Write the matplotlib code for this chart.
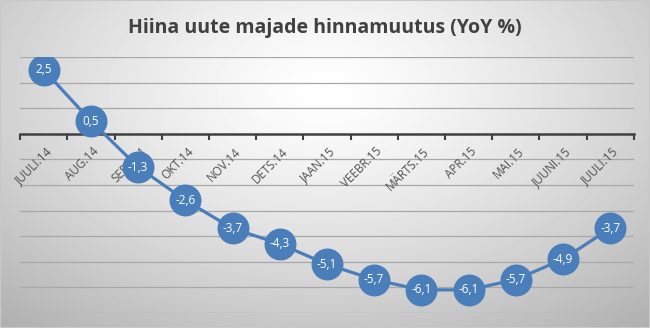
import matplotlib
matplotlib.use("Agg")
import matplotlib.pyplot as plt
import numpy as np

months = ["JUULI.14", "AUG.14", "SEPT.14", "OKT.14", "NOV.14", "DETS.14", "JAAN.15",
          "VEEBR.15", "MÄRTS.15", "APR.15", "MAI.15", "JUUNI.15", "JUULI.15"]
yoy = [2.5, 0.5, -1.3, -2.6, -3.7, -4.3, -5.1, -5.7, -6.1, -6.1, -5.7, -4.9, -3.7]
title = "Hiina uute majade hinnamuutus (YoY %)"

plt.rcParams['font.family'] = ['Open Sans', 'DejaVu Sans']

fig = plt.figure(figsize=(6.5, 3.28), dpi=100)

# radial grey background like the Excel chart area
bg = fig.add_axes([0, 0, 1, 1], zorder=-10)
yy, xx = np.mgrid[0:328, 0:650]
r = np.sqrt(((xx - 325) / 420.0) ** 2 + ((yy - 90) / 260.0) ** 2)
shade = 1.0 - 0.25 * np.clip(r, 0, 1.2) ** 1.3
bg.imshow(shade, cmap="gray", vmin=0, vmax=1, aspect="auto", interpolation="bilinear")
bg.axis("off")
fig.patches.append(plt.Rectangle((0, 0), 1, 1, transform=fig.transFigure,
                                 fill=False, ec="#c8c8c8", lw=1.5))

ax = fig.add_axes([0.031, 0.046, 0.944, 0.78])
ax.patch.set_alpha(0)
x = np.arange(len(months))
ax.set_xlim(-0.5, len(months) - 0.5)
ax.set_ylim(-7, 3)

for v in range(-7, 4):
    if v != 0:
        ax.axhline(v, color="#a8a8a8", lw=0.9, zorder=1)

ax.plot(x, yoy, color="#4a7ebb", lw=2.3, marker="o", markersize=22,
        markerfacecolor="#4a7ebb", markeredgecolor="#4a7ebb", zorder=3)
for xi, v in zip(x, yoy):
    ax.text(xi, v, f"{v:.1f}".replace(".", ","), color="white", fontsize=8.5,
            ha="center", va="center", zorder=4)

for s in ["top", "right", "left"]:
    ax.spines[s].set_visible(False)
ax.spines["bottom"].set_position(("data", 0))
ax.spines["bottom"].set_color("#404040")
ax.spines["bottom"].set_linewidth(1.8)
ax.set_yticks([])
ax.set_xticks(np.arange(-0.5, len(months), 1.0))
ax.set_xticklabels([])
ax.tick_params(axis="x", length=4, width=1.5, color="#404040", direction="out")
for xi, m in zip(x, months):
    ax.annotate(m, xy=(xi, 0), xytext=(1, -8), textcoords="offset points",
                rotation=45, ha="right", va="top", rotation_mode="anchor",
                fontsize=8.5, color="#505050", zorder=2)

fig.text(0.5, 0.915, title, ha="center", va="center", fontsize=14,
         fontweight="bold", color="#404040")

fig.savefig("out.png", dpi=100)
